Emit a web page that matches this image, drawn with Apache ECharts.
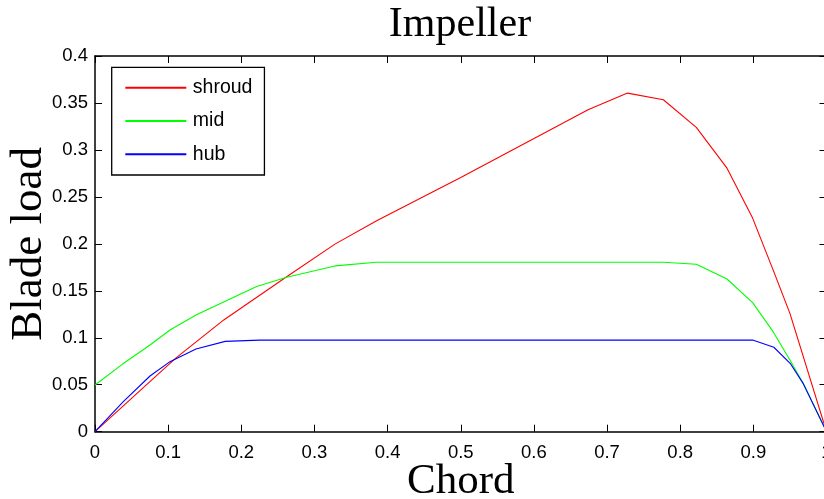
<!DOCTYPE html>
<html>
<head>
<meta charset="utf-8">
<script src="https://cdn.jsdelivr.net/npm/echarts@6/dist/echarts.min.js"></script>
<style>
  html, body { margin: 0; padding: 0; background: #fff; }
  #chart { width: 824px; height: 499px; }
</style>
</head>
<body>
<div id="chart"></div>
<script>
// chord positions and blade load
const chordShroud = [0, 0.11, 0.176, 0.262, 0.328, 0.385, 0.5, 0.674, 0.728, 0.777, 0.822, 0.864, 0.899, 0.927, 0.95, 1.0];
const shroud = [0, 0.078, 0.119, 0.165, 0.1997, 0.2245, 0.2706, 0.3428, 0.3605, 0.3534, 0.324, 0.2806, 0.2274, 0.1723, 0.126, 0];

const chordMid = [0, 0.0377, 0.0752, 0.1025, 0.138, 0.178, 0.221, 0.262, 0.328, 0.385, 0.777, 0.822, 0.864, 0.899, 0.927, 0.95, 0.968, 1.0];
const mid = [0.0497, 0.072, 0.0923, 0.1083, 0.1243, 0.139, 0.1545, 0.1644, 0.1765, 0.1804, 0.1804, 0.1783, 0.1626, 0.1374, 0.1065, 0.0764, 0.0515, 0];

const chordHub = [0, 0.0387, 0.0752, 0.1025, 0.138, 0.178, 0.225, 0.899, 0.928, 0.951, 0.968, 1.0];
const hub = [0, 0.032, 0.0593, 0.0746, 0.0881, 0.0962, 0.0975, 0.0976, 0.0899, 0.0721, 0.0515, 0];

const seriesNames = ['shroud', 'mid', 'hub'];
const seriesColors = ['#ff0000', '#00ff00', '#0000ff'];

function pairs(xs, ys) {
  return xs.map((x, i) => [x, ys[i]]);
}

const chart = echarts.init(document.getElementById('chart'));

const tickFont = {
  fontFamily: 'Liberation Sans',
  fontSize: 18.5,
  lineHeight: 18.5,
  color: '#000'
};

let option = {
  animation: false,
  backgroundColor: '#fff',
  title: {
    text: 'Impeller',
    left: 460,
    top: 4,
    padding: 0,
    textAlign: 'center',
    textStyle: {
      fontFamily: 'Liberation Serif',
      fontWeight: 'normal',
      fontSize: 42,
      lineHeight: 42,
      color: '#000'
    }
  },
  legend: {
    orient: 'vertical',
    left: 111.7,
    top: 67.3,
    padding: [10.4, 12, 10.7, 12.6],
    itemWidth: 61,
    itemHeight: 20,
    itemGap: 13.3,
    borderColor: '#000',
    borderWidth: 1.3,
    backgroundColor: '#fff',
    itemStyle: {opacity: 0},
    data: seriesNames,
    textStyle: {
      fontFamily: 'Liberation Sans',
      fontSize: 19.5,
      lineHeight: 20,
      color: '#000',
      padding: [0, 0, 0, 1.5]
    }
  },
  grid: {
    left: 95,
    right: -2.5,
    top: 56,
    bottom: 67.3,
    containLabel: false,
    outerBoundsMode: 'none'
  },
  xAxis: [
    {
      type: 'value',
      min: 0,
      max: 1,
      interval: 0.1,
      name: 'Chord',
      nameLocation: 'middle',
      nameGap: 29,
      nameMoveOverlap: false,
      nameTextStyle: {
        fontFamily: 'Liberation Serif',
        fontSize: 43,
        lineHeight: 43,
        color: '#000'
      },
      splitLine: {show: false},
      axisLine: {onZero: false, lineStyle: {color: '#000', width: 1.5}},
      axisTick: {inside: true, length: 7, lineStyle: {color: '#000', width: 1}},
      axisLabel: Object.assign({margin: 11.5, showMaxLabel: true, showMinLabel: true}, tickFont)
    },
    {
      type: 'value',
      position: 'top',
      min: 0,
      max: 1,
      interval: 0.1,
      splitLine: {show: false},
      axisLine: {onZero: false, lineStyle: {color: '#000', width: 1.5}},
      axisTick: {inside: true, length: 7, lineStyle: {color: '#000', width: 1}},
      axisLabel: {show: false}
    }
  ],
  yAxis: [
    {
      type: 'value',
      min: 0,
      max: 0.4,
      interval: 0.05,
      name: 'Blade load',
      nameLocation: 'middle',
      nameGap: 43,
      nameMoveOverlap: false,
      nameTextStyle: {
        fontFamily: 'Liberation Serif',
        fontSize: 45,
        lineHeight: 45,
        color: '#000'
      },
      splitLine: {show: false},
      axisLine: {onZero: false, lineStyle: {color: '#000', width: 1.5}},
      axisTick: {inside: true, length: 7, lineStyle: {color: '#000', width: 1}},
      axisLabel: Object.assign({margin: 7}, tickFont)
    },
    {
      type: 'value',
      position: 'right',
      min: 0,
      max: 0.4,
      interval: 0.05,
      splitLine: {show: false},
      axisLine: {onZero: false, lineStyle: {color: '#000', width: 1.5}},
      axisTick: {inside: true, length: 7, lineStyle: {color: '#000', width: 1}},
      axisLabel: {show: false}
    }
  ],
  series: []
};

const allData = [pairs(chordShroud, shroud), pairs(chordMid, mid), pairs(chordHub, hub)];

option.series = allData.map((d, i) => ({
  name: seriesNames[i],
  type: 'line',
  xAxisIndex: 0,
  yAxisIndex: 0,
  symbol: 'none',
  smooth: false,
  color: seriesColors[i],
  lineStyle: {color: seriesColors[i], width: 1.1},
  data: d
}));

chart.setOption(option);
</script>
</body>
</html>
